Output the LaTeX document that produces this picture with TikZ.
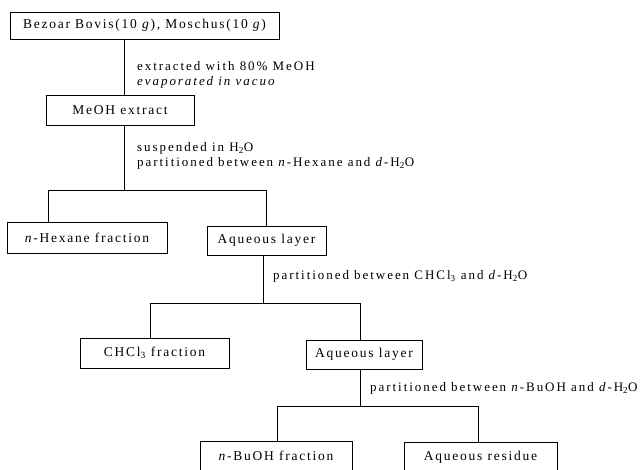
\documentclass[tikz,border=0pt]{standalone}
\usepackage{fontspec}
\setmainfont{Liberation Serif}[LetterSpace=13]
\newfontfamily\lblfont{Liberation Serif}[LetterSpace=15]
\begin{document}
\begin{tikzpicture}[x=1pt,y=-1pt,
  box/.style={draw,line width=0.8pt,rectangle,inner sep=0pt,
    font=\fontsize{13.5pt}{15pt}\selectfont},
  lbl/.style={anchor=west,inner sep=0pt,align=left,
    font=\lblfont\fontsize{13pt}{14.5pt}\selectfont},
  conn/.style={line width=0.8pt}]
\useasboundingbox (0,0) rectangle (640,469);
\clip (0,0) rectangle (640,469);
% boxes
\node[box,minimum width=269pt,minimum height=27pt] (b1) at (144.5,25.5) {Bezoar Bovis(10 \textit{g}), Moschus(10 \textit{g})};
\node[box,minimum width=148pt,minimum height=30pt] (b2) at (120,110) {MeOH extract};
\node[box,minimum width=160pt,minimum height=31pt] (hex) at (87,237.5) {\textit{n}-Hexane fraction};
\node[box,minimum width=119pt,minimum height=29pt] (aq1) at (266.5,240.5) {Aqueous layer};
\node[box,minimum width=149pt,minimum height=30pt] (chcl) at (154.5,353) {CHCl\textsubscript{3} fraction};
\node[box,minimum width=116pt,minimum height=29pt] (aq2) at (364,354.5) {Aqueous layer};
\node[box,minimum width=152pt,minimum height=30pt] (bu) at (276,456) {\textit{n}-BuOH fraction};
\node[box,minimum width=153pt,minimum height=30pt] (res) at (480.5,457) {Aqueous residue};
% labels
\node[lbl] (l1) at (137,75) {extracted with 80\% MeOH\\\textit{evaporated in vacuo}};
\node[lbl] (l2) at (137,156) {suspended in H\textsubscript{2}O\\partitioned between \textit{n}-Hexane and \textit{d}-H\textsubscript{2}O};
\node[lbl] (l3) at (273,276) {partitioned between CHCl\textsubscript{3} and \textit{d}-H\textsubscript{2}O};
\node[lbl] (l4) at (370,388) {partitioned between \textit{n}-BuOH and \textit{d}-H\textsubscript{2}O};
% junction coordinates
\coordinate (t1) at (124,0);
\coordinate (j1) at (124,190);
\coordinate (j1l) at (48,190);
\coordinate (j1r) at (266,190);
\coordinate (t2) at (263,0);
\coordinate (j2) at (263,303);
\coordinate (j2l) at (150,303);
\coordinate (j2r) at (360,303);
\coordinate (j3) at (360,406);
\coordinate (j3l) at (277,406);
\coordinate (j3r) at (478,406);
% connectors
\draw[conn] (b1.south -| t1) -- (b2.north -| t1);
\draw[conn] (b2.south -| t1) -- (j1);
\draw[conn] (hex.north -| j1l) -- (j1l) -- (j1r) -- (aq1.north -| j1r);
\draw[conn] (aq1.south -| t2) -- (j2);
\draw[conn] (chcl.north -| j2l) -- (j2l) -- (j2r) -- (aq2.north -| j2r);
\draw[conn] (aq2.south -| j3) -- (j3);
\draw[conn] (bu.north -| j3l) -- (j3l) -- (j3r) -- (res.north -| j3r);
\end{tikzpicture}
\end{document}
